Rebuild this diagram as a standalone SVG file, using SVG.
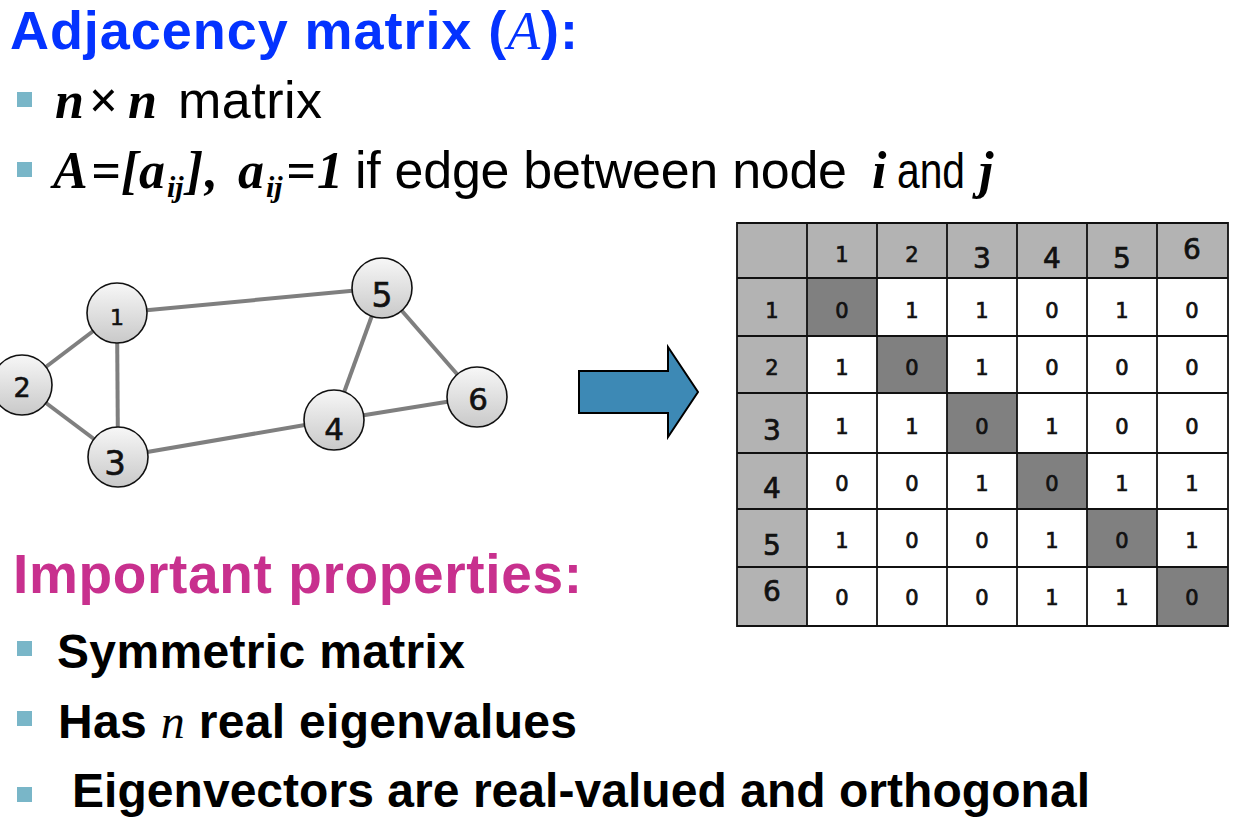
<svg xmlns="http://www.w3.org/2000/svg" width="1242" height="828" viewBox="0 0 1242 828">
<defs>
<linearGradient id="ng" x1="0" y1="0" x2="0" y2="1">
<stop offset="0" stop-color="#f7f7f7"/>
<stop offset="1" stop-color="#c9c9c9"/>
</linearGradient>
<style>
.sans{font-family:"Liberation Sans",Arial,sans-serif}
.bi{font-family:"Liberation Serif","Times New Roman",serif;font-weight:bold;font-style:italic}
.bul{fill:#79b6c8}
.edge{stroke:#7f7f7f;stroke-width:4;fill:none}
.node{fill:url(#ng);stroke:#111;stroke-width:1.6}
.nl{font-family:"DejaVu Sans",sans-serif;fill:#111;text-anchor:middle;stroke:#111;stroke-width:0.6}
.hd{fill:#b3b3b3}
.dg{fill:#808080}
.wc{fill:#ffffff}
.grid{stroke:#111;stroke-width:1.8;fill:none}
.d{font-family:"DejaVu Sans",sans-serif;fill:#111;text-anchor:middle;stroke:#111;stroke-width:0.7}
.s{font-size:21px}
.L{font-size:28px}
</style>
</defs>
<rect width="1242" height="828" fill="#ffffff"/>

<!-- Heading -->
<text class="sans" x="10" y="49" font-size="54" font-weight="bold" fill="#0433ff" textLength="568" lengthAdjust="spacing">Adjacency matrix (<tspan font-family="Liberation Serif,serif" font-style="italic" font-weight="normal">A</tspan>):</text>

<rect class="bul" x="17" y="92" width="15" height="15"/>
<text class="sans" font-size="52" fill="#000"><tspan class="bi" x="55" y="118">n</tspan><tspan class="bi" x="88" y="118">×</tspan><tspan class="bi" x="128" y="118">n</tspan><tspan x="178" y="118" textLength="144" lengthAdjust="spacing">matrix</tspan></text>

<rect class="bul" x="17" y="162" width="15" height="15"/>
<text class="sans" font-size="52" fill="#000"><tspan class="bi" x="53" y="188">A</tspan><tspan class="bi" x="91" y="188">=</tspan><tspan class="bi" x="121" y="188">[</tspan><tspan class="bi" x="139" y="188">a</tspan><tspan class="bi" x="167" y="197" font-size="30">ij</tspan><tspan class="bi" x="186" y="188">]</tspan><tspan class="bi" x="205" y="188">,</tspan><tspan class="bi" x="238" y="188">a</tspan><tspan class="bi" x="266" y="197" font-size="30">ij</tspan><tspan class="bi" x="286" y="188">=</tspan><tspan class="bi" x="317" y="188">1</tspan><tspan x="355" y="188" textLength="492" lengthAdjust="spacing">if edge between node</tspan><tspan class="bi" x="872" y="188">i</tspan><tspan x="897" y="188" font-size="50" textLength="68" lengthAdjust="spacingAndGlyphs">and</tspan><tspan class="bi" x="979" y="188">j</tspan></text>

<!-- Connectors -->
<g id="edges">
<line class="edge" x1="117" y1="313" x2="22" y2="385"/>
<line class="edge" x1="117" y1="313" x2="118" y2="457"/>
<line class="edge" x1="22" y1="385" x2="118" y2="457"/>
<line class="edge" x1="117" y1="313" x2="382" y2="288"/>
<line class="edge" x1="118" y1="457" x2="334" y2="420"/>
<line class="edge" x1="334" y1="420" x2="382" y2="288"/>
<line class="edge" x1="382" y1="288" x2="477" y2="397"/>
<line class="edge" x1="334" y1="420" x2="477" y2="397"/>
</g>

<!-- Nodes -->
<g id="node1"><circle class="node" cx="117" cy="313" r="30"/><text class="nl" x="117" y="325" font-size="22">1</text></g>
<g id="node2"><circle class="node" cx="22" cy="385" r="30"/><text class="nl" x="22" y="397" font-size="27">2</text></g>
<g id="node3"><circle class="node" cx="118" cy="457" r="30"/><text class="nl" x="115" y="475" font-size="34">3</text></g>
<g id="node4"><circle class="node" cx="334" cy="420" r="30"/><text class="nl" x="334" y="440" font-size="31">4</text></g>
<g id="node5"><circle class="node" cx="382" cy="288" r="30"/><text class="nl" x="382" y="307" font-size="33">5</text></g>
<g id="node6"><circle class="node" cx="477" cy="397" r="30"/><text class="nl" x="478" y="410" font-size="31">6</text></g>

<!-- Arrow -->
<g id="arrow">
<polygon points="579,371 668,371 668,347 698,392 668,437 668,413 579,413" fill="#3d89b5" stroke="#000" stroke-width="2" stroke-linejoin="miter"/>
</g>

<!-- Matrix -->
<g id="matrix">
<rect class="hd" x="737" y="223" width="491" height="55"/>
<rect class="hd" x="737" y="278" width="70" height="348"/>
<rect class="wc" x="807" y="278" width="421" height="348"/>
<rect class="dg" x="807" y="278" width="70" height="58"/>
<rect class="dg" x="877" y="336" width="70" height="57"/>
<rect class="dg" x="947" y="393" width="70" height="60"/>
<rect class="dg" x="1017" y="453" width="70" height="56"/>
<rect class="dg" x="1087" y="509" width="70" height="58"/>
<rect class="dg" x="1157" y="567" width="71" height="59"/>
<path class="grid" d="M737 223H1228V626H737Z M807 223V626 M877 223V626 M947 223V626 M1017 223V626 M1087 223V626 M1157 223V626 M737 278H1228 M737 336H1228 M737 393H1228 M737 453H1228 M737 509H1228 M737 567H1228"/>

<!-- header row -->
<text class="d s" x="842" y="262">1</text>
<text class="d s" x="912" y="262">2</text>
<text class="d L" x="982" y="268">3</text>
<text class="d L" x="1052" y="268">4</text>
<text class="d L" x="1122" y="268">5</text>
<text class="d L" x="1192" y="259">6</text>
<!-- row labels -->
<text class="d s" x="772" y="318">1</text>
<text class="d s" x="772" y="375">2</text>
<text class="d L" x="772" y="440">3</text>
<text class="d L" x="772" y="498">4</text>
<text class="d L" x="772" y="555">5</text>
<text class="d L" x="772" y="601">6</text>
<!-- cells -->
<text class="d s" y="318"><tspan x="842">0</tspan><tspan x="912">1</tspan><tspan x="982">1</tspan><tspan x="1052">0</tspan><tspan x="1122">1</tspan><tspan x="1192">0</tspan></text>
<text class="d s" y="375"><tspan x="842">1</tspan><tspan x="912">0</tspan><tspan x="982">1</tspan><tspan x="1052">0</tspan><tspan x="1122">0</tspan><tspan x="1192">0</tspan></text>
<text class="d s" y="434"><tspan x="842">1</tspan><tspan x="912">1</tspan><tspan x="982">0</tspan><tspan x="1052">1</tspan><tspan x="1122">0</tspan><tspan x="1192">0</tspan></text>
<text class="d s" y="491"><tspan x="842">0</tspan><tspan x="912">0</tspan><tspan x="982">1</tspan><tspan x="1052">0</tspan><tspan x="1122">1</tspan><tspan x="1192">1</tspan></text>
<text class="d s" y="548"><tspan x="842">1</tspan><tspan x="912">0</tspan><tspan x="982">0</tspan><tspan x="1052">1</tspan><tspan x="1122">0</tspan><tspan x="1192">1</tspan></text>
<text class="d s" y="605"><tspan x="842">0</tspan><tspan x="912">0</tspan><tspan x="982">0</tspan><tspan x="1052">1</tspan><tspan x="1122">1</tspan><tspan x="1192">0</tspan></text>
</g>

<!-- Properties -->
<text class="sans" x="13" y="593" font-size="55" font-weight="bold" fill="#c8308e" textLength="569" lengthAdjust="spacing">Important properties:</text>

<rect class="bul" x="17" y="641" width="15" height="15"/>
<text class="sans" x="57" y="668" font-size="48" font-weight="bold" fill="#000" textLength="408" lengthAdjust="spacing">Symmetric matrix</text>

<rect class="bul" x="17" y="711" width="15" height="15"/>
<text class="sans" x="58" y="738" font-size="48" font-weight="bold" fill="#000" textLength="519" lengthAdjust="spacing">Has <tspan font-family="Liberation Serif,serif" font-style="italic" font-weight="normal">n</tspan> real eigenvalues</text>

<rect class="bul" x="17" y="787" width="15" height="15"/>
<text class="sans" x="72" y="807" font-size="48" font-weight="bold" fill="#000" textLength="1018" lengthAdjust="spacing">Eigenvectors are real-valued and orthogonal</text>
</svg>
